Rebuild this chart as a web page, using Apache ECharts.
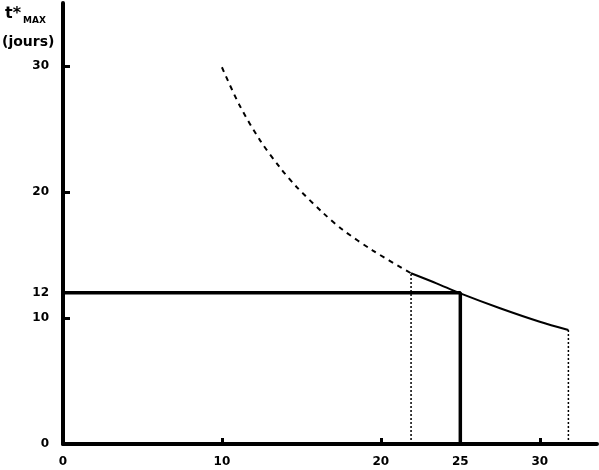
<!DOCTYPE html>
<html><head><meta charset="utf-8">
<script src="https://cdn.jsdelivr.net/npm/echarts@6/dist/echarts.min.js"></script>
<style>html,body{margin:0;padding:0;background:#fff}#c{width:599px;height:470px}</style>
</head><body><div id="c"></div>
<script>
// Curve t*MAX (jours) vs temperature
var dashedCurve = [[10.0,29.9],[11.1,26.9],[12.4,24.1],[13.65,21.95],[14.7,20.4],[16.4,18.3],[17.6,17.0],[19.5,15.35],[21.9,13.55]];
var solidCurve = [[21.9,13.55],[23.5,12.75],[25.0,11.95],[27.5,10.77],[30.0,9.7],[31.8,9.05]];
var dottedLeft = [[21.9,0],[21.9,13.55]];
var dottedRight = [[31.8,0],[31.8,9.05]];
var thickLines = [[0,12],[25,12],[25,0]];
var xLabels = [0,10,20,25,30];
var xTicks = [10,20,30];
var yLabels = [0,10,12,20,30];
var yTicks = [10,20,30];

var chart = echarts.init(document.getElementById('c'), null, {renderer:'canvas'});
var lblStyle = {color:'#000', fontSize:12, fontWeight:'bold', fontFamily:'DejaVu Sans'};
chart.setOption({
  animation:false,
  backgroundColor:'#fff',
  grid:{left:63, right:2, top:3, bottom:26},
  xAxis:{type:'value', min:0, max:33.6, splitLine:{show:false},
    axisLine:{lineStyle:{color:'#000', width:4}},
    axisTick:{inside:true, length:6, lineStyle:{color:'#000', width:3}, customValues:xTicks},
    axisLabel:Object.assign({margin:12, customValues:xLabels}, lblStyle)},
  yAxis:{type:'value', min:0, max:35, splitLine:{show:false},
    axisLine:{lineStyle:{color:'#000', width:4}},
    axisTick:{inside:true, length:7, lineStyle:{color:'#000', width:3}, customValues:yTicks},
    axisLabel:Object.assign({margin:14, customValues:yLabels}, lblStyle)},
  graphic:[
    {type:'text', left:5, top:6, style:{text:'t*', font:'bold 16px "DejaVu Sans"', fill:'#000'}},
    {type:'text', left:23, top:16, style:{text:'MAX', font:'bold 9px "DejaVu Sans"', fill:'#000'}},
    {type:'text', left:2, top:35, style:{text:'(jours)', font:'bold 14px "DejaVu Sans"', fill:'#000'}}
  ],
  series:[
    {type:'line', data:dashedCurve, smooth:0.3, symbol:'none', lineStyle:{color:'#000', width:2, type:[5,5]}},
    {type:'line', data:solidCurve, smooth:0.3, symbol:'none', lineStyle:{color:'#000', width:2}},
    {type:'line', data:dottedLeft, symbol:'none', lineStyle:{color:'#000', width:1.5, type:[2,2]}},
    {type:'line', data:dottedRight, symbol:'none', lineStyle:{color:'#000', width:1.5, type:[2,2]}},
    {type:'line', data:thickLines, symbol:'none', lineStyle:{color:'#000', width:3.5}}
  ]
});
</script></body></html>
